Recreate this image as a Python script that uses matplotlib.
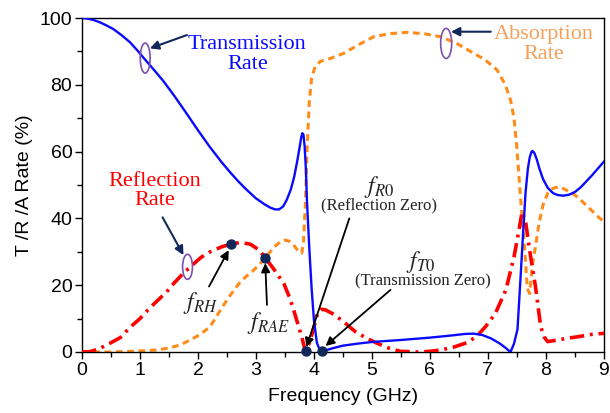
import matplotlib
matplotlib.use("Agg")
import matplotlib.pyplot as plt
from matplotlib.patches import Ellipse
from matplotlib.ticker import MultipleLocator

# transmission rate (%) vs frequency (GHz)
t_freq = [0.0, 0.1, 0.2, 0.31, 0.42, 0.54, 0.68, 0.83, 0.96, 1.09, 1.25, 1.4,
          1.6, 1.8, 2.0, 2.2, 2.4, 2.56, 2.7, 2.85, 3.0, 3.15, 3.25, 3.33,
          3.4, 3.47, 3.53, 3.6, 3.66, 3.71, 3.75, 3.78, 3.80, 3.82, 3.84,
          3.86, 3.88, 3.92, 3.96, 4.0, 4.05, 4.1, 4.14, 4.2, 4.34, 4.5, 4.75,
          5.0, 5.5, 6.0, 6.4, 6.6, 6.75, 6.9, 7.05, 7.2, 7.3, 7.39, 7.45, 7.51,
          7.56, 7.61, 7.65, 7.69, 7.72, 7.75, 7.77, 7.8, 7.84, 7.89, 7.95,
          8.03, 8.12, 8.2, 8.3, 8.4, 8.5, 8.6, 8.8, 9.0]
t_rate = [100.0, 99.8, 99.4, 98.7, 97.8, 96.7, 94.9, 92.7, 90.2, 87.5, 84.3,
          81.2, 76.5, 71.5, 66.4, 61.5, 57.0, 53.7, 51.0, 48.4, 46.0, 44.2,
          43.2, 42.7, 42.7, 43.6, 45.5, 48.6, 52.5, 57.0, 61.0, 64.2, 65.5,
          65.0, 61.5, 55.0, 45.0, 31.0, 19.0, 9.5, 2.8, 0.6, 0.1, 0.5, 1.2,
          1.9, 2.5, 3.0, 3.6, 4.3, 5.0, 5.4, 5.5, 5.1, 4.1, 2.6, 1.3, 0.0,
          2.5, 6.8, 21.5, 36.5, 48.0, 55.0, 58.2, 59.9, 60.2, 59.6, 57.8,
          54.8, 51.8, 49.2, 47.6, 47.0, 46.8, 47.1, 47.9, 49.3, 53.0, 57.0]

# reflection rate (%)
r_freq = [0.0, 0.14, 0.3, 0.48, 0.66, 0.83, 1.0, 1.17, 1.29, 1.46, 1.58, 1.75,
          1.92, 2.05, 2.21, 2.41, 2.57, 2.73, 2.9, 3.05, 3.16, 3.3, 3.48, 3.58,
          3.65, 3.72, 3.79, 3.85, 3.93, 4.0, 4.06, 4.12, 4.2, 4.34, 4.5, 4.72,
          4.9, 5.09, 5.3, 5.49, 5.8, 6.0, 6.18, 6.4, 6.64, 6.8, 6.96, 7.13,
          7.31, 7.45, 7.53, 7.59, 7.65, 7.71, 7.82, 7.91, 7.97, 8.03, 8.2,
          8.37, 8.6, 8.8, 9.0]
r_rate = [0.0, 0.1, 1.0, 2.6, 4.3, 7.4, 10.0, 13.2, 15.2, 18.0, 20.5, 23.6,
          26.3, 28.3, 30.0, 31.5, 32.3, 32.8, 32.3, 30.6, 28.2, 25.0, 20.5,
          16.3, 12.6, 8.5, 4.5, 0.3, 3.0, 7.5, 11.5, 12.8, 12.6, 11.3, 9.2,
          6.0, 4.2, 2.6, 1.1, 0.2, 0.0, 0.2, 0.6, 1.4, 2.8, 4.6, 7.6, 11.6,
          18.6, 28.5, 36.0, 42.0, 39.0, 31.5, 19.6, 7.6, 4.5, 3.1, 3.6, 4.1,
          4.7, 5.3, 5.6]

# absorption rate (%)
a_freq = [0.0, 0.5, 1.0, 1.29, 1.5, 1.69, 1.9, 2.05, 2.21, 2.35, 2.5, 2.62,
          2.73, 2.85, 2.96, 3.06, 3.16, 3.26, 3.35, 3.43, 3.5, 3.57, 3.64,
          3.7, 3.75, 3.79, 3.82, 3.85, 3.88, 3.92, 3.96, 4.02, 4.11, 4.3,
          4.51, 4.75, 5.03, 5.3, 5.6, 5.9, 6.18, 6.45, 6.76, 6.95, 7.16, 7.3,
          7.39, 7.45, 7.5, 7.55, 7.63, 7.68, 7.72, 7.77, 7.82, 7.88, 7.95,
          8.03, 8.12, 8.23, 8.35, 8.5, 8.6, 8.75, 8.9, 9.0]
a_rate = [0.0, 0.0, 0.3, 0.6, 1.2, 2.1, 3.9, 5.4, 7.6, 11.5, 15.6, 18.5, 21.0,
          22.9, 24.5, 26.2, 28.2, 30.3, 32.0, 33.1, 33.5, 33.2, 32.2, 30.9,
          29.8, 29.6, 33.0, 43.5, 60.0, 75.0, 82.0, 85.4, 87.0, 88.0, 89.4,
          91.8, 94.4, 95.3, 95.7, 95.3, 94.4, 92.5, 89.4, 87.5, 84.4, 80.0,
          75.4, 70.0, 61.0, 49.0, 31.5, 19.0, 17.5, 26.5, 31.5, 38.5, 44.0,
          47.5, 49.0, 49.5, 48.5, 47.0, 45.5, 43.0, 40.5, 39.0]

# marked frequencies: (freq, rate)
f_rh = (2.57, 32.3)
f_rae = (3.16, 28.2)
f_r0 = (3.86, 0.3)
f_t0 = (4.14, 0.3)

blue = "#0a0aff"
red = "#ff0000"
orange = "#ff8c1a"
navy = "#13285a"
purple = "#7f4fae"

plt.rcParams["font.family"] = ["Liberation Sans", "DejaVu Sans"]
plt.rcParams["mathtext.fontset"] = "stix"

fig = plt.figure(figsize=(6.1, 4.13), dpi=100)
ax = fig.add_axes([0.1344, 0.1477, 0.8556, 0.8087])

ax.plot(a_freq, a_rate, color=orange, lw=2.2, dashes=(2.2, 1.5), zorder=2)
ax.plot(r_freq, r_rate, color=red, lw=2.6, dashes=(4.0, 1.6, 0.8, 1.6), zorder=3)
ax.plot(t_freq, t_rate, color=blue, lw=1.7, zorder=4)

for pt in (f_rh, f_rae, f_r0, f_t0):
    ax.plot(pt[0], pt[1], "o", color=navy, ms=6.5, zorder=6, clip_on=False)

serif = ["Liberation Serif", "DejaVu Serif"]

# curve labels
ax.text(2.85, 89.0, "Transmission\nRate", color=blue, family=serif, fontsize=16,
        ha="center", va="center", linespacing=1.05)
ax.text(7.97, 92.0, "Absorption\nRate", color="#f5a05a", family=serif, fontsize=16,
        ha="center", va="center", linespacing=1.05)
ax.text(1.26, 48.2, "Reflection\nRate", color=red, family=serif, fontsize=16,
        ha="center", va="center", linespacing=1.05)

# purple rings on the curves
for cx, cy, w, h in [(1.09, 88.0, 0.17, 9.0), (6.28, 92.4, 0.19, 9.0), (1.82, 25.5, 0.17, 7.5)]:
    ax.add_patch(Ellipse((cx, cy), w, h, fill=False, ec=purple, lw=1.2, zorder=7))

navy_arrow = dict(arrowstyle="-|>", color=navy, lw=1.5, mutation_scale=13, shrinkA=0, shrinkB=0)
ax.annotate("", xy=(1.17, 90.9), xytext=(1.81, 94.9), arrowprops=navy_arrow, zorder=8)
ax.annotate("", xy=(6.36, 95.9), xytext=(7.05, 95.9), arrowprops=navy_arrow, zorder=8)
ax.annotate("", xy=(1.75, 29.0), xytext=(1.39, 40.3), arrowprops=navy_arrow, zorder=8)

# frequency markers
black_arrow = dict(arrowstyle="-|>", color="black", lw=1.3, mutation_scale=13, shrinkA=0, shrinkB=0)
ax.text(2.04, 14.7, r"$f_{RH}$", fontsize=17, ha="center", va="center", color="#222222")
ax.annotate("", xy=(2.53, 30.5), xytext=(2.19, 19.6), arrowprops=black_arrow, zorder=8)
ax.text(3.21, 8.7, r"$f_{RAE}$", fontsize=17, ha="center", va="center", color="#222222")
ax.annotate("", xy=(3.16, 26.6), xytext=(3.19, 14.1), arrowprops=black_arrow, zorder=8)

ax.text(5.12, 49.5, r"$f_{R0}$", fontsize=17, ha="center", va="center", color="#222222")
ax.text(5.13, 43.8, "(Reflection Zero)", family=serif, fontsize=12, ha="center",
        va="center", color="#222222")
ax.annotate("", xy=(3.87, 1.5), xytext=(4.61, 40.0), arrowprops=black_arrow, zorder=8)

ax.text(5.84, 27.0, r"$f_{T0}$", fontsize=17, ha="center", va="center", color="#222222")
ax.text(5.87, 21.0, "(Transmission Zero)", family=serif, fontsize=12, ha="center",
        va="center", color="#222222")
ax.annotate("", xy=(4.20, 1.8), xytext=(5.32, 18.6), arrowprops=black_arrow, zorder=8)

ax.set_xlim(0, 9)
ax.set_ylim(0, 100)
ax.xaxis.set_major_locator(MultipleLocator(1))
ax.xaxis.set_minor_locator(MultipleLocator(0.5))
ax.yaxis.set_major_locator(MultipleLocator(20))
ax.yaxis.set_minor_locator(MultipleLocator(10))
ax.tick_params(which="major", direction="out", length=5, width=1, labelsize=14, pad=2)
ax.tick_params(which="minor", direction="out", length=3.5, width=1)
for s in ax.spines.values():
    s.set_linewidth(1.0)

ax.set_xlabel("Frequency (GHz)", fontsize=14, labelpad=7)
ax.set_ylabel("T /R /A Rate (%)", fontsize=14, labelpad=5)

fig.savefig("out.png", dpi=100)
